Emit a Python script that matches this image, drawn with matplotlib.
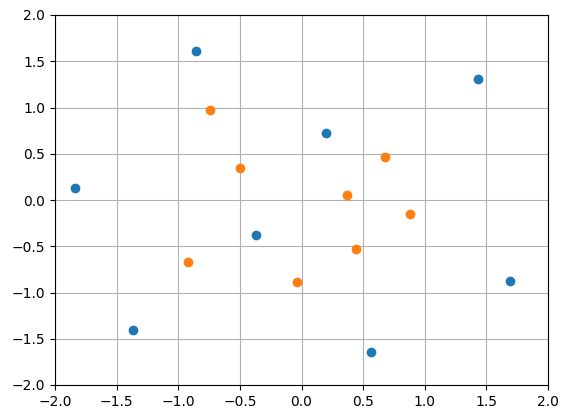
import matplotlib.pyplot as plt

# two groups of points
blue_x = [-0.86, -1.84, -1.37, -0.37, 0.20, 1.43, 1.69, 0.56]
blue_y = [1.61, 0.13, -1.41, -0.38, 0.72, 1.31, -0.88, -1.64]

orange_x = [-0.74, -0.50, -0.92, -0.04, 0.37, 0.68, 0.88, 0.44]
orange_y = [0.97, 0.35, -0.67, -0.89, 0.05, 0.47, -0.15, -0.53]

fig = plt.figure(figsize=(5.7, 4.18), dpi=100)
ax = fig.add_axes([55 / 570, 1 - 385 / 418, 493 / 570, 370 / 418])

ax.scatter(blue_x, blue_y, color='#1f77b4', zorder=3)
ax.scatter(orange_x, orange_y, color='#ff7f0e', zorder=3)

ax.set_xlim(-2, 2)
ax.set_ylim(-2, 2)
ax.grid(True)
ax.set_axisbelow(True)

fig.savefig('out.png', dpi=100)
